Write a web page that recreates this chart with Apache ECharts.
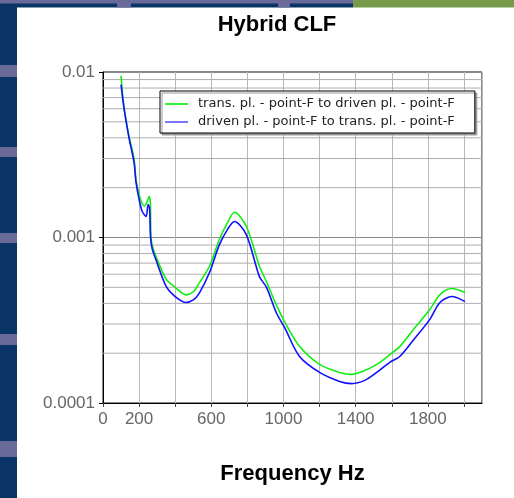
<!DOCTYPE html>
<html><head><meta charset="utf-8">
<script src="https://cdn.jsdelivr.net/npm/echarts@6/dist/echarts.min.js"></script>
<style>html,body{margin:0;padding:0;background:#fff;}#c{width:514px;height:498px;}</style>
</head><body><div id="c"></div>
<script>
// ---- data ----
const greenName = 'trans. pl. - point-F to driven pl. - point-F';
const blueName = 'driven pl. - point-F to trans. pl. - point-F';
const greenFreq = [100,117,144,172,183,200,217,230,245,255,262,266,275,293,350,400,460,500,533,590,644,690,728,794,867,906,961,1006,1089,1200,1311,1378,1450,1517,1589,1644,1720,1811,1867,1933,2006];
const greenVal  = [0.0095,0.0060,0.0041,0.0030,0.00224,0.00182,0.00160,0.00155,0.00165,0.00177,0.00165,0.00100,0.00088,0.00077,0.00056,0.00050,0.00045,0.00047,0.00053,0.00067,0.00097,0.00123,0.00142,0.00117,0.00067,0.00054,0.00039,0.00031,0.00022,0.000171,0.000153,0.000149,0.000157,0.000171,0.000196,0.000219,0.000278,0.000367,0.000452,0.000492,0.000465];
const blueFreq = [100,117,144,172,183,200,217,239,250,258,263,272,293,350,400,460,500,533,590,644,690,728,794,867,906,961,1006,1089,1200,1311,1378,1450,1517,1589,1644,1720,1811,1867,1933,2006];
const blueVal  = [0.0084,0.0060,0.0040,0.00284,0.00215,0.00170,0.00144,0.00134,0.00158,0.00150,0.00102,0.00086,0.000736,0.000506,0.00044,0.000405,0.00042,0.00046,0.000614,0.00090,0.00112,0.00125,0.00104,0.00058,0.00050,0.00035,0.000286,0.000191,0.000153,0.000135,0.000131,0.000137,0.000153,0.000176,0.000191,0.00024,0.00032,0.000405,0.00044,0.00041];
const xTickLabels = [0,200,600,1000,1400,1800];
const yTickLabels = ['0.0001','0.001','0.01'];
const minorGridValues = [0.0002,0.0003,0.0004,0.0005,0.0006,0.0007,0.0008,0.0009,0.002,0.003,0.004,0.005,0.006,0.007,0.008,0.009];
const xMin = 0, xMax = 2100;

const zip = (a,b)=>a.map((v,i)=>[v,b[i]]);
const FONT = '"Liberation Sans", Arial, sans-serif';
const LFONT = '"DejaVu Sans", sans-serif';
const DB = '#0b3466', PU = '#6a6a9a', GR = '#779a4a';

const minorSeries = minorGridValues.map(v=>({
  type:'line', name:'_g'+v, data:[[xMin,v],[xMax,v]], z:1, silent:true,
  showSymbol:false, symbol:'none', animation:false,
  lineStyle:{color:'#adadad', width:1}, itemStyle:{color:'#adadad'}
}));

const chart = echarts.init(document.getElementById('c'), null, {renderer:'canvas'});
chart.setOption({
  backgroundColor:'#ffffff',
  animation:false,
  graphic:[
    {type:'rect', shape:{x:0,y:0,width:17,height:498}, style:{fill:DB}, silent:true},
    {type:'rect', shape:{x:0,y:65,width:17,height:12}, style:{fill:PU}, silent:true},
    {type:'rect', shape:{x:0,y:147,width:17,height:10}, style:{fill:PU}, silent:true},
    {type:'rect', shape:{x:0,y:233,width:17,height:10}, style:{fill:PU}, silent:true},
    {type:'rect', shape:{x:0,y:334,width:17,height:11}, style:{fill:PU}, silent:true},
    {type:'rect', shape:{x:0,y:441,width:17,height:16}, style:{fill:PU}, silent:true},
    {type:'rect', shape:{x:0,y:0,width:353,height:7.5}, style:{fill:DB}, silent:true},
    {type:'rect', shape:{x:0,y:0,width:353,height:3.5}, style:{fill:PU}, silent:true},
    {type:'rect', shape:{x:117,y:0,width:14,height:7.5}, style:{fill:PU}, silent:true},
    {type:'rect', shape:{x:278,y:0,width:12,height:7.5}, style:{fill:PU}, silent:true},
    {type:'rect', shape:{x:353,y:0,width:161,height:7.5}, style:{fill:GR}, silent:true}
  ],
  title:{
    text:'Hybrid CLF', left:272, textAlign:'center', top:9,
    textStyle:{fontFamily:FONT, fontSize:22, fontWeight:'bold', color:'#000'}
  },
  legend:{
    orient:'vertical', left:160, top:91,
    padding:[6,20,4,5], itemGap:4, itemWidth:23, itemHeight:2,
    backgroundColor:'#fff', borderColor:'#000', borderWidth:1,
    shadowColor:'#999', shadowOffsetX:2, shadowOffsetY:2, shadowBlur:0,
    textStyle:{fontFamily:LFONT, fontSize:13, color:'#222', lineHeight:14, padding:[0,0,0,5]},
    data:[
      {name:greenName, icon:'rect', itemStyle:{color:'#33ee33'}},
      {name:blueName, icon:'rect', itemStyle:{color:'#7777ff'}}
    ]
  },
  grid:{left:103, top:72, width:379, height:331, show:true, borderColor:'#111', borderWidth:1, backgroundColor:'transparent'},
  xAxis:{
    type:'value', min:xMin, max:xMax, interval:200,
    name:'Frequency Hz', nameLocation:'middle', nameGap:60,
    nameTextStyle:{fontFamily:FONT, fontSize:22, fontWeight:'bold', color:'#000'},
    axisLine:{lineStyle:{color:'#000', width:1}},
    axisTick:{length:4, lineStyle:{color:'#444'}},
    axisLabel:{interval:0, margin:8, fontFamily:FONT, fontSize:17, color:'#666', showMaxLabel:false,
      formatter:v=> xTickLabels.indexOf(v)>=0 ? String(v) : ''},
    splitLine:{show:true, lineStyle:{color:'#b8b8b8', width:1}}
  },
  yAxis:{
    type:'log', logBase:10, min:0.0001, max:0.01,
    axisLine:{lineStyle:{color:'#000', width:1}},
    axisTick:{length:4, lineStyle:{color:'#000'}},
    axisLabel:{margin:8, fontFamily:FONT, fontSize:17, color:'#666',
      formatter:v=>{const s = Number(Number(v).toPrecision(1)).toString(); return yTickLabels.indexOf(s)>=0 ? s : '';}},
    splitLine:{show:true, lineStyle:{color:'#8a8a8a', width:1}}
  },
  series: minorSeries.concat([
    {
      type:'line', name:greenName, data:zip(greenFreq,greenVal), z:3,
      showSymbol:false, symbol:'none', smooth:0.3,
      lineStyle:{color:'#11ee11', width:1.6}, itemStyle:{color:'#11ee11'}
    },
    {
      type:'line', name:blueName, data:zip(blueFreq,blueVal), z:4,
      showSymbol:false, symbol:'none', smooth:0.3,
      lineStyle:{color:'#1010ff', width:1.6}, itemStyle:{color:'#1010ff'}
    }
  ])
});
</script>
</body></html>
